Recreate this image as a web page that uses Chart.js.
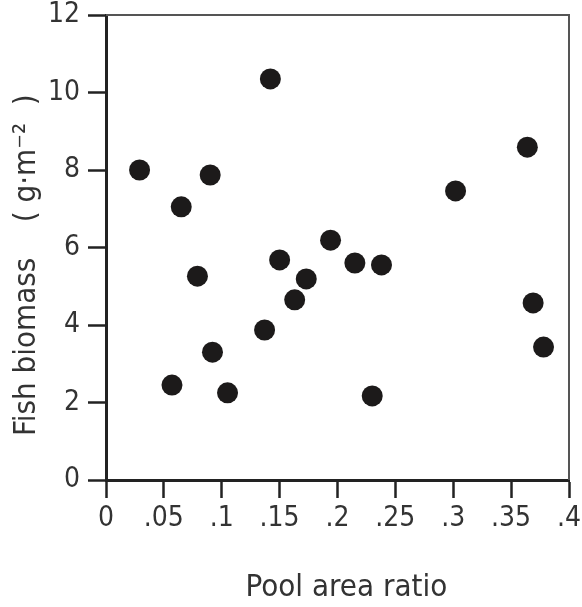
<!DOCTYPE html>
<html>
<head>
<meta charset="utf-8">
<script src="https://cdn.jsdelivr.net/npm/chart.js@4"></script>
<style>
  html, body { margin: 0; padding: 0; background: #fff; }
  #wrap { width: 582px; height: 607px; }
</style>
</head>
<body>
<div id="wrap"><canvas id="fish-chart"></canvas></div>
<script>
// values
const poolAreaRatio = [0.029, 0.057, 0.065, 0.079, 0.090, 0.092, 0.105, 0.142, 0.137, 0.150,
  0.163, 0.173, 0.194, 0.215, 0.238, 0.230, 0.302, 0.364, 0.369, 0.378];
const fishBiomass = [8.0, 2.45, 7.05, 5.26, 7.87, 3.30, 2.25, 10.35, 3.87, 5.68,
  4.65, 5.19, 6.19, 5.60, 5.55, 2.17, 7.46, 8.59, 4.57, 3.43];
const xTicks = [0, 0.05, 0.1, 0.15, 0.2, 0.25, 0.3, 0.35, 0.4];
const yTicks = [0, 2, 4, 6, 8, 10, 12];

const FONT = "'Liberation Sans Narrow', 'DejaVu Sans Condensed', 'Liberation Sans', sans-serif";

// top and right edges of the box
const framePlugin = {
  id: "frame",
  afterDraw(chart) {
    const { ctx, chartArea: a } = chart;
    ctx.save();
    ctx.strokeStyle = "#555";
    ctx.lineWidth = 2;
    ctx.beginPath();
    ctx.moveTo(a.left, a.top);
    ctx.lineTo(a.right, a.top);
    ctx.lineTo(a.right, a.bottom);
    ctx.stroke();
    ctx.restore();
  },
};

const points = poolAreaRatio.map((x, i) => ({ x: x, y: fishBiomass[i] }));

const ctx = document.querySelector("#fish-chart").getContext("2d");
const fishChart = new Chart(ctx, {
  type: "scatter",
  data: {
    datasets: [
      {
        label: "Fish biomass",
        data: points,
        backgroundColor: "#1c1a1a",
        borderColor: "#1c1a1a",
        pointRadius: 10.5,
        pointHoverRadius: 10.5,
        borderWidth: 0,
      },
    ],
  },
  options: {
    responsive: true,
    maintainAspectRatio: false,
    animation: false,
    events: [],
    layout: {
      padding: { top: 15, right: 13, bottom: 0, left: 0 },
    },
    plugins: {
      legend: { display: false },
      tooltip: { enabled: false },
    },
    scales: {
      x: {
        type: "linear",
        min: 0,
        max: 0.4,
        afterBuildTicks: (scale) => {
          scale.ticks = xTicks.map((v) => ({ value: v }));
        },
        afterFit: (scale) => {
          scale.height = 127;
          scale.paddingLeft = 0;
          scale.paddingRight = 0;
        },
        border: { display: true, color: "#222", width: 3 },
        grid: {
          drawOnChartArea: false,
          drawTicks: true,
          tickLength: 18,
          tickWidth: 2.5,
          tickColor: "#222",
        },
        ticks: {
          color: "#333",
          padding: 7,
          maxRotation: 0,
          autoSkip: false,
          font: { family: FONT, size: 28, lineHeight: 1 },
          callback: (value) => {
            if (value === 0) return "0";
            return Number(value.toFixed(2)).toString().replace(/^0\./, ".");
          },
        },
        title: {
          display: true,
          text: "\u00a0\u00a0Pool area ratio",
          color: "#333",
          padding: { top: 0, bottom: 0 },
          font: { family: FONT, size: 31, lineHeight: 1.2 },
        },
      },
      y: {
        type: "linear",
        min: 0,
        max: 12,
        afterBuildTicks: (scale) => {
          scale.ticks = yTicks.map((v) => ({ value: v }));
        },
        afterFit: (scale) => {
          scale.width = 106;
          scale.paddingTop = 0;
          scale.paddingBottom = 0;
        },
        border: { display: true, color: "#222", width: 3 },
        grid: {
          drawOnChartArea: false,
          drawTicks: true,
          tickLength: 18,
          tickWidth: 2.5,
          tickColor: "#222",
        },
        ticks: {
          color: "#333",
          padding: 8,
          autoSkip: false,
          font: { family: FONT, size: 28, lineHeight: 1 },
        },
        title: {
          display: true,
          text: "Fish biomass\u00a0\u00a0\u00a0\u00a0(\u00a0g\u00b7m\u207b\u00b2\u00a0\u00a0)\u00a0\u00a0\u00a0\u00a0",
          color: "#333",
          padding: { top: 8, bottom: 0 },
          font: { family: FONT, size: 31, lineHeight: 1.2 },
        },
      },
    },
  },
  plugins: [framePlugin],
});
</script>
</body>
</html>
